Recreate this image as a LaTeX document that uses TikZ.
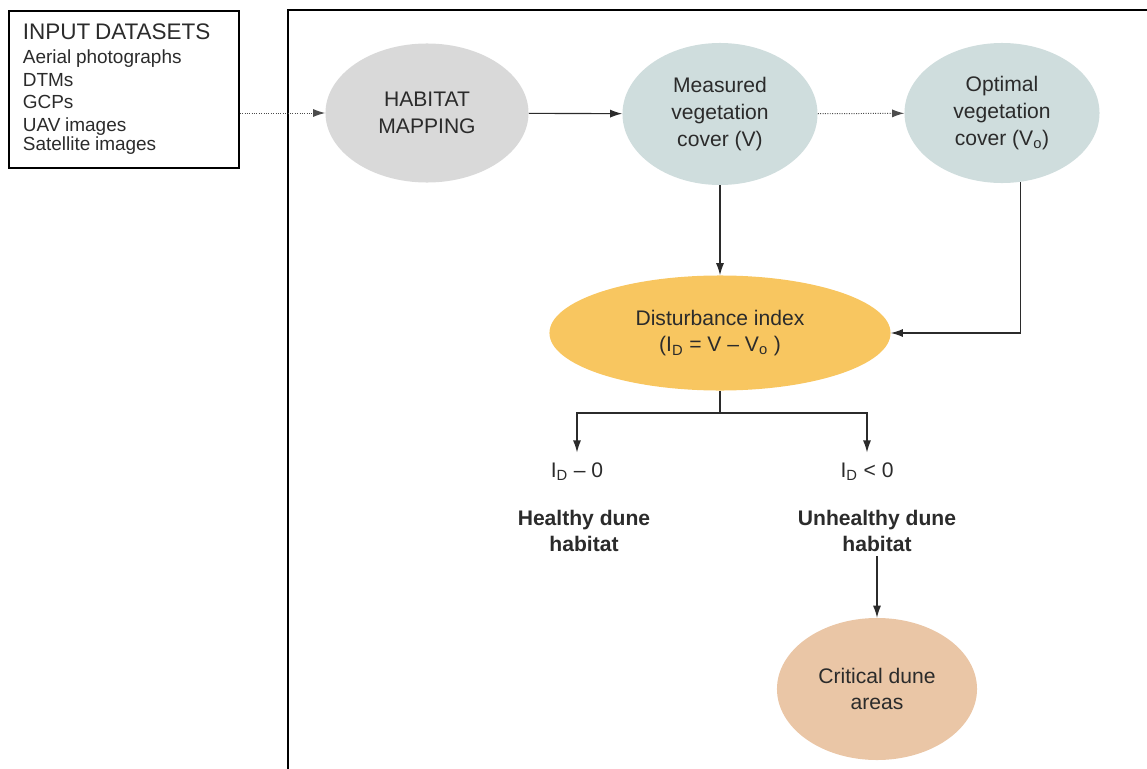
\documentclass[tikz,border=0pt]{standalone}
\usepackage{fontspec}
\setmainfont{Liberation Sans}
\usepackage{xcolor}
\usetikzlibrary{arrows.meta}
\usetikzlibrary{shapes.geometric}

\definecolor{habgray}{HTML}{D9D9D9}
\definecolor{vegblue}{HTML}{CFDDDD}
\definecolor{distyellow}{HTML}{F8C660}
\definecolor{crittan}{HTML}{EAC6A6}
\definecolor{inkgray}{HTML}{2B2B2B}

\begin{document}
\begin{tikzpicture}[
    x=0.025cm, y=-0.025cm,
    >={Latex[length=3mm, width=2mm]},
    blob/.style={ellipse, inner sep=0pt, align=center, text=inkgray, font=\fontsize{15}{19}\selectfont},
    outcome/.style={align=center, text=inkgray, font=\fontsize{15}{18}\selectfont},
    link/.style={draw, ->, line width=0.8pt, inkgray},
    dots/.style={draw, ->, densely dotted, line width=0.7pt, black!70}
]
\useasboundingbox (0,0) rectangle (1147,769);

% Frame :
\draw[line width=1.3pt] (288,769) -- (288,10) -- (1147,10);

% Nodes :
\node[draw, line width=1.2pt, anchor=north west, minimum width=5.75cm, minimum height=3.925cm,
      inner xsep=0.35cm, text width=5.05cm, align=left, text=inkgray] (inp) at (8,10)
    {{\fontsize{16}{18}\selectfont INPUT DATASETS}\\[1pt]
     \fontsize{13.5}{16}\selectfont Aerial photographs\\DTMs\\GCPs\\UAV images\\Satellite images};

\node[blob, fill=habgray, minimum width=5.075cm, minimum height=3.475cm] (hab) at (427,113) {HABITAT\\MAPPING};
\node[blob, fill=vegblue, minimum width=4.875cm, minimum height=3.55cm] (meas) at (720,114) {Measured\\vegetation\\cover (V)};
\node[blob, fill=vegblue, minimum width=4.875cm, minimum height=3.5cm] (opt) at (1002,113) {Optimal\\vegetation\\cover (V\textsubscript{o})};
\node[blob, fill=distyellow, minimum width=8.525cm, minimum height=2.875cm] (dist) at (720,333)
    {Disturbance index\\(I\textsubscript{D} = V -- V\textsubscript{o} )};

\coordinate (fork) at (720,413);

\node[outcome] (healthyval) at (577,472) {I\textsubscript{D} -- 0};
\node[outcome, font=\fontsize{15}{18}\bfseries] (healthy) at (584,531) {Healthy dune\\habitat};
\node[outcome] (unhealthyval) at (867,472) {I\textsubscript{D} < 0};
\node[outcome, font=\fontsize{15}{18}\bfseries] (unhealthy) at (877,531) {Unhealthy dune\\habitat};

\node[blob, fill=crittan, minimum width=5.0cm, minimum height=3.55cm] (crit) at (877,689) {Critical dune\\areas};

% Edges :
\draw[dots] (inp.east |- hab) -- (hab);
\draw[link] (hab) -- (meas);
\draw[dots] (meas) -- (opt);
\draw[link] (meas) -- (dist);
\draw[link] (opt.-75) |- (dist.east);

\draw[line width=0.8pt, inkgray] (dist.south) -- (fork);
\draw[link, shorten >=4pt] (fork) -| (healthyval.north);
\draw[link, shorten >=4pt] (fork) -| (unhealthyval.north);
\draw[link] (unhealthy) -- (crit);

\end{tikzpicture}
\end{document}
